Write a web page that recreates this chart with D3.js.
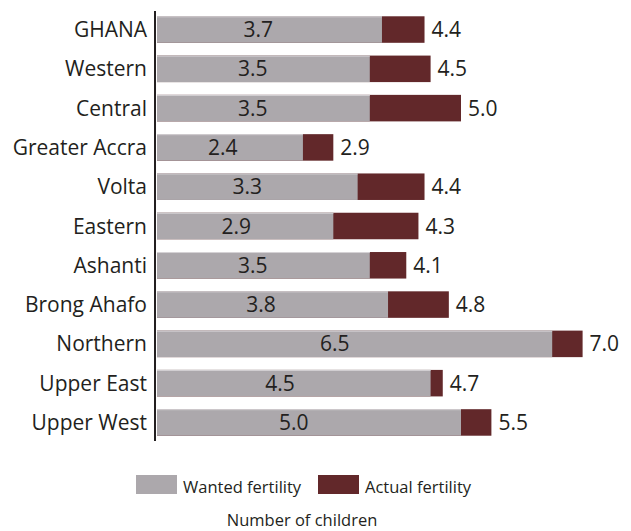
<!DOCTYPE html>
<meta charset="utf-8">
<style>
body {
  margin: 0;
  background: #fff;
  font-family: "Open Sans", "Noto Sans", sans-serif;
}
text {
  fill: #231f20;
}
.axis-line {
  stroke: #231f20;
  stroke-width: 2;
}
</style>
<body>
<script src="https://cdn.jsdelivr.net/npm/d3@7"></script>
<script>

var width = 631,
    height = 531;

var regions = ["GHANA", "Western", "Central", "Greater Accra", "Volta", "Eastern",
               "Ashanti", "Brong Ahafo", "Northern", "Upper East", "Upper West"];
var wanted = [3.7, 3.5, 3.5, 2.4, 3.3, 2.9, 3.5, 3.8, 6.5, 4.5, 5.0];
var actual = [4.4, 4.5, 5.0, 2.9, 4.4, 4.3, 4.1, 4.8, 7.0, 4.7, 5.5];

var seriesNames = ["Wanted fertility", "Actual fertility"];
var colors = ["#aca8ac", "#62282a"];

var data = regions.map(function(r, i) {
  return {region: r, wanted: wanted[i], actual: actual[i]};
});

var x = d3.scaleLinear()
    .domain([0, 7])
    .range([157, 582.6]);

var y = d3.scaleBand()
    .domain(regions)
    .range([10, 442])
    .paddingInner(0.325)
    .paddingOuter(0.16);

var svg = d3.select("body").append("svg")
    .attr("width", width)
    .attr("height", height);

var rows = svg.selectAll(".row")
    .data(data)
  .enter().append("g")
    .attr("class", "row")
    .attr("transform", function(d) { return "translate(0," + y(d.region) + ")"; });

// actual fertility drawn behind the wanted part
rows.append("rect")
    .attr("x", x(0))
    .attr("width", function(d) { return x(d.actual) - x(0); })
    .attr("height", y.bandwidth())
    .attr("fill", colors[1]);

rows.append("rect")
    .attr("x", x(0))
    .attr("width", function(d) { return x(d.wanted) - x(0); })
    .attr("height", y.bandwidth())
    .attr("fill", colors[0]);

// faint highlight on the top edge of the grey bars
rows.append("line")
    .attr("x1", x(0))
    .attr("x2", function(d) { return x(d.wanted); })
    .attr("y1", 0.5)
    .attr("y2", 0.5)
    .attr("stroke", "#d6d3d6")
    .attr("stroke-width", 1);

rows.append("text")
    .attr("x", function(d) { return x(0) + 0.45 * (x(d.wanted) - x(0)); })
    .attr("y", y.bandwidth() / 2 + 7.5)
    .attr("text-anchor", "middle")
    .style("font-size", "21px")
    .text(function(d) { return d.wanted.toFixed(1); });

rows.append("text")
    .attr("x", function(d) { return x(d.actual) + 7; })
    .attr("y", y.bandwidth() / 2 + 7.5)
    .style("font-size", "21px")
    .text(function(d) { return d.actual.toFixed(1); });

rows.append("text")
    .attr("x", 147)
    .attr("y", y.bandwidth() / 2 + 7.5)
    .attr("text-anchor", "end")
    .style("font-size", "21px")
    .text(function(d) { return d.region; });

svg.append("line")
    .attr("class", "axis-line")
    .attr("x1", 155)
    .attr("x2", 155)
    .attr("y1", 11)
    .attr("y2", 441);

// legend
var legendX = [136, 318];
var legend = svg.selectAll(".legend")
    .data(seriesNames)
  .enter().append("g")
    .attr("class", "legend")
    .attr("transform", function(d, i) { return "translate(" + legendX[i] + ",475)"; });

legend.append("rect")
    .attr("width", 41)
    .attr("height", 19)
    .attr("fill", function(d, i) { return colors[i]; });

legend.append("text")
    .attr("x", 47)
    .attr("y", 18)
    .style("font-size", "16.5px")
    .text(function(d) { return d; });

svg.append("text")
    .attr("x", 302)
    .attr("y", 526)
    .attr("text-anchor", "middle")
    .style("font-size", "16.5px")
    .text("Number of children");

</script>
